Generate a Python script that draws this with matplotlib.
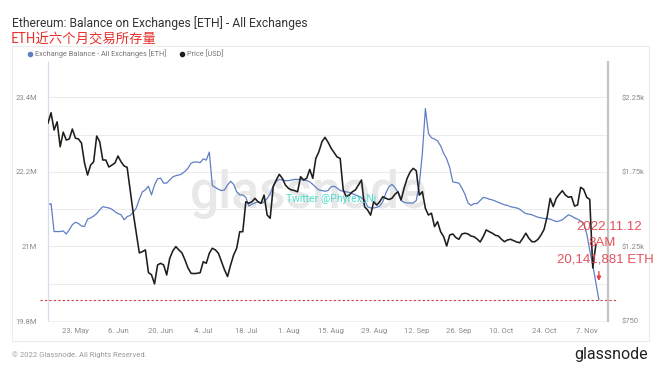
import pandas as pd
import matplotlib.pyplot as plt
import matplotlib.dates as mdates
from matplotlib.lines import Line2D
from matplotlib.patches import Rectangle

plt.rcParams['font.family'] = ['Roboto', 'DejaVu Sans']

start = '2022-05-14'

# exchange balance, million ETH, daily
balance = [
    21.67, 21.69, 21.24, 21.24, 21.24, 21.25, 21.20, 21.27, 21.35, 21.39,
    21.37, 21.33, 21.32, 21.44, 21.46, 21.49, 21.53, 21.59, 21.64, 21.63,
    21.62, 21.60, 21.56, 21.53, 21.51, 21.43, 21.48, 21.50, 21.55, 21.62,
    21.76, 21.88, 21.91, 21.97, 21.83, 21.99, 22.09, 22.10, 22.02, 22.02,
    22.07, 22.12, 22.14, 22.15, 22.17, 22.21, 22.26, 22.34, 22.36, 22.36,
    22.35, 22.41, 22.39, 22.52, 21.98, 21.95, 21.92, 21.90, 21.91, 21.99,
    22.05, 22.00, 21.88, 21.83, 21.83, 21.79, 21.65, 21.68, 21.70, 21.72,
    21.69, 21.72, 21.77, 21.85, 21.98, 22.05, 22.08, 22.07, 22.06, 22.06,
    22.07, 22.08, 22.08, 22.08, 22.07, 22.06, 22.04, 22.00, 21.95, 21.91,
    21.90, 21.89, 21.90, 21.96, 21.97, 21.94, 21.90, 21.89, 21.88, 21.87,
    21.85, 21.83, 21.81, 21.78, 21.75, 21.64, 21.62, 21.62, 21.63, 21.65,
    21.72, 21.86, 21.96, 22.00, 21.95, 21.87, 21.74, 21.71, 21.70, 21.70,
    21.70, 21.74, 22.00, 22.50, 23.22, 22.82, 22.75, 22.73, 22.70, 22.62,
    22.50, 22.41, 22.27, 22.04, 22.03, 22.02, 21.94, 21.84, 21.70, 21.66,
    21.69, 21.69, 21.74, 21.79, 21.78, 21.76, 21.75, 21.73, 21.71, 21.69,
    21.67, 21.66, 21.64, 21.63, 21.62, 21.60, 21.56, 21.53, 21.52, 21.51,
    21.49, 21.47, 21.46, 21.45, 21.45, 21.44, 21.42, 21.40, 21.41, 21.43,
    21.47, 21.51, 21.49, 21.46, 21.44, 21.41, 21.37, 21.21, 20.94, 20.70,
    20.42, 20.142,
]

# ETH price, USD, daily
price = [
    2078, 2147, 2031, 2086, 1919, 2017, 1964, 1971, 2038, 1977,
    1971, 1944, 1810, 1729, 1796, 1818, 1991, 1952, 1830, 1830,
    1783, 1796, 1810, 1857, 1818, 1790, 1781, 1629, 1475, 1341,
    1207, 1215, 1227, 1075, 1060, 999, 1126, 1137, 1126, 1059,
    1171, 1220, 1249, 1227, 1207, 1160, 1106, 1070, 1068, 1070,
    1074, 1148, 1137, 1204, 1238, 1227, 1204, 1148, 1093, 1048,
    1126, 1193, 1238, 1349, 1349, 1550, 1540, 1550, 1573, 1550,
    1540, 1595, 1461, 1439, 1650, 1696, 1734, 1707, 1662, 1640,
    1629, 1625, 1617, 1718, 1696, 1707, 1767, 1707, 1841, 1885,
    1952, 1982, 1950, 1910, 1880, 1850, 1841, 1629, 1584, 1595,
    1617, 1629, 1662, 1696, 1517, 1495, 1460, 1550, 1528, 1550,
    1584, 1573, 1565, 1573, 1600, 1617, 1562, 1640, 1707, 1750,
    1774, 1758, 1595, 1617, 1506, 1461, 1473, 1383, 1416, 1349,
    1316, 1253, 1327, 1334, 1310, 1298, 1334, 1339, 1334, 1320,
    1315, 1300, 1280, 1316, 1361, 1349, 1339, 1325, 1320, 1298,
    1282, 1294, 1298, 1289, 1280, 1275, 1305, 1339, 1305, 1282,
    1282, 1298, 1327, 1365, 1450, 1573, 1517, 1573, 1600, 1624,
    1595, 1580, 1584, 1521, 1528, 1647, 1633, 1580, 1566, 1106,
    1260,
]

left_ticks = [19.8, 21.0, 22.2, 23.4]
left_labels = ['19.8M', '21M', '22.2M', '23.4M']
right_ticks = [750, 1250, 1750, 2250]
right_labels = ['$750', '$1.25k', '$1.75k', '$2.25k']
grid_vals = [20.4, 21.0, 21.6, 22.2, 22.8, 23.4]
x_ticks = ['2022-05-23', '2022-06-06', '2022-06-20', '2022-07-04', '2022-07-18',
           '2022-08-01', '2022-08-15', '2022-08-29', '2022-09-12', '2022-09-26',
           '2022-10-10', '2022-10-24', '2022-11-07']

bal_dates = pd.date_range(start, periods=len(balance), freq='D')
price_dates = pd.date_range(start, periods=len(price), freq='D')

W, H = 660, 372
blue = '#5f7fc4'
red = '#e0404a'
gray = '#8a8a8a'


def fx(x):
    return x / W


def fy(y):
    return 1 - y / H


fig = plt.figure(figsize=(6.6, 3.72), dpi=100)
fig.patch.set_facecolor('white')
ax = fig.add_axes([fx(48), fy(321), fx(608) - fx(48), fy(62) - fy(321)])
ax2 = ax.twinx()

fig.patches.append(Rectangle((fx(12), fy(341)), fx(649) - fx(12), fy(46) - fy(341),
                             transform=fig.transFigure, fill=False,
                             edgecolor='#ececec', linewidth=0.8))

ax.set_ylim(19.8, 23.97)
ax2.set_ylim(750, 750 + (23.97 - 19.8) / 0.6 * 250)
ax.set_xlim(pd.Timestamp('2022-05-14'), pd.Timestamp('2022-11-14'))

for g in grid_vals:
    ax.axhline(g, color='#e8e8e8', linewidth=0.6, zorder=0)

ax.text(0.465, 0.49, 'glassnode', transform=ax.transAxes, fontsize=37,
        color='#e8e8e8', ha='center', va='center', zorder=0, fontweight='medium')

ax.plot(bal_dates, balance, color=blue, linewidth=0.9, zorder=2)
ax2.plot(price_dates, price, color='#1e1e1e', linewidth=1.15, zorder=3)

ax.axhline(balance[-1], xmin=-0.015, xmax=1.016, color='#d23c3c', linewidth=0.8,
           linestyle=(0, (2, 2)), clip_on=False, zorder=4)

ax2.text(0.505, 0.47, 'Twitter @Phyrex_Ni', transform=ax.transAxes, fontsize=7.5,
         color='#4fdccb', ha='center', va='center', zorder=5)

ax.set_yticks(left_ticks)
ax.set_yticklabels(left_labels)
ax2.set_yticks(right_ticks)
ax2.set_yticklabels(right_labels)
ax.set_xticks(pd.to_datetime(x_ticks))
ax.xaxis.set_major_formatter(mdates.DateFormatter('%-d. %b'))

ax.tick_params(axis='y', length=0, labelsize=5.5, labelcolor=gray, pad=8)
ax.tick_params(axis='x', length=0, labelsize=5.5, labelcolor=gray, pad=5)
ax2.tick_params(axis='y', length=0, labelsize=5.5, labelcolor=gray, pad=10)

for a in (ax, ax2):
    for s in a.spines.values():
        s.set_visible(False)
ax.spines['left'].set_visible(True)
ax.spines['left'].set_color('#d5dcec')
ax.spines['left'].set_linewidth(0.9)
ax2.spines['right'].set_visible(True)
ax2.spines['right'].set_color('#c4c4c4')
ax2.spines['right'].set_linewidth(1.6)
ax.spines['bottom'].set_visible(True)
ax.spines['bottom'].set_color('#eeeeee')
ax.spines['bottom'].set_linewidth(0.6)

# annotation of the last value
ax.annotate('', xy=(bal_dates[-1], 20.40), xytext=(bal_dates[-1], 20.64),
            arrowprops=dict(arrowstyle='-|>', color=red, linewidth=1.0,
                            mutation_scale=6), zorder=6)
ann_font = dict(fontsize=9.5, color=red, ha='center', va='center', alpha=0.9,
                family=['Liberation Sans Narrow', 'Liberation Sans'])
fig.text(fx(609), fy(227), '2022.11.12', **ann_font)
fig.text(fx(602), fy(243), '8AM', **ann_font)
fig.text(fx(605), fy(260), '20,141,881 ETH', **ann_font)

# titles
fig.text(fx(12), fy(23), 'Ethereum: Balance on Exchanges [ETH] - All Exchanges',
         fontsize=8.7, color='#333333', ha='left', va='center')
fig.text(fx(11), fy(40), 'ETH近六个月交易所存量', fontsize=9.6, color='#e8302a',
         ha='left', va='center', family=['Noto Sans CJK SC', 'DejaVu Sans'])

handles = [Line2D([], [], marker='o', linestyle='none', color=blue, markersize=3),
           Line2D([], [], marker='o', linestyle='none', color='#1e1e1e', markersize=3)]
fig.legend(handles, ['Exchange Balance - All Exchanges [ETH]', 'Price [USD]'],
           loc='center left', bbox_to_anchor=(fx(26), fy(54)), ncol=2, frameon=False,
           fontsize=5.3, labelcolor='#777777', handletextpad=0.2, columnspacing=1.6,
           handlelength=1.0, borderaxespad=0, borderpad=0)

# footer
fig.text(fx(12), fy(355), '© 2022 Glassnode. All Rights Reserved.', fontsize=5.5,
         color='#999999', ha='left', va='center')
fig.text(fx(648), fy(354), 'glassnode', fontsize=11.5, color='#222222',
         ha='right', va='center')

fig.savefig('out.png', dpi=100)
